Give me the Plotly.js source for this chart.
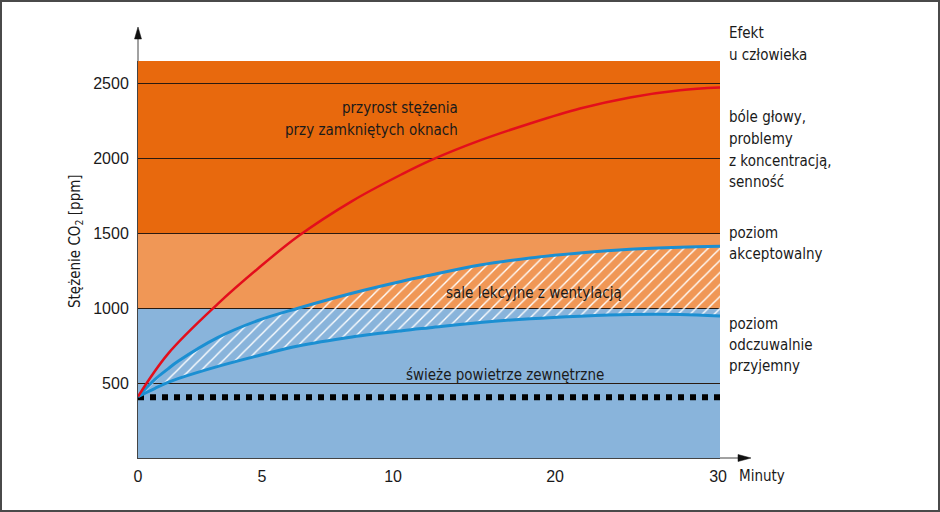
<!DOCTYPE html>
<html>
<head>
<meta charset="utf-8">
<script src="https://cdn.plot.ly/plotly-3.0.1.min.js"></script>
<style>html,body{margin:0;padding:0;background:#fff;}#chart{width:940px;height:512px;}</style>
</head>
<body>
<div id="chart"></div>
<script>
// ---- data (x in drawn time-axis position units, labelled by tickLabels) ----
const tickPos = [0, 6.41, 13.19, 21.57, 30];
const tickLabels = ['0', '5', '10', '20', '30'];
const yTicks = [500, 1000, 1500, 2000, 2500];
const bandFrom = [0, 1000, 1500];
const bandTo = [1000, 1500, 2650];
const bandColors = ['#89b4db', '#f09756', '#e8690d'];

const tRed = [0, 1.55, 4.14, 6.21, 8.28, 11.07, 13.66, 15.10, 17.69, 20.28, 22.86, 25.45, 28.03, 30.1];
const closedWindows = [410, 695, 1030, 1265, 1480, 1715, 1895, 1985, 2120, 2233, 2333, 2407, 2455, 2473];
const t = [0, 0.88, 1.55, 2.07, 4.14, 6.21, 8.28, 11.07, 13.66, 15.10, 17.69, 20.28, 22.86, 25.45, 28.03, 30.1];
const ventUpper = [410, 525, 595, 645, 805, 918, 1000, 1100, 1180, 1220, 1288, 1335, 1368, 1393, 1407, 1413];
const ventLower = [410, 465, 505, 530, 612, 683, 748, 808, 850, 870, 905, 930, 947, 958, 958, 948];
const outdoorT = [0, 30.1];
const outdoor = [405, 405];

// ---- layout helpers (pixel -> paper) ----
const L = 138, R = 720, T = 61, B = 458;
const px = x => (x - L) / (R - L);
const py = y => (B - y) / (B - T);
const FONT = '"DejaVu Sans Condensed", "Liberation Sans", sans-serif';
const TICKFONT = '"Liberation Sans", Arial, sans-serif';
const TXT = '#1a1a1a';

const traces = [
  {x: outdoorT, y: outdoor, mode: 'lines', line: {color: '#000', width: 6, dash: '6px,6px'}, hoverinfo: 'skip'},
  {x: t, y: ventLower, mode: 'lines', line: {color: '#1b8fd2', width: 3, shape: 'spline'}, hoverinfo: 'skip'},
  {x: t, y: ventUpper, mode: 'lines', line: {color: '#1b8fd2', width: 3, shape: 'spline'},
   fill: 'tonexty', fillcolor: 'rgba(0,0,0,0)',
   fillpattern: {shape: '/', fgcolor: '#ffffff', bgcolor: 'rgba(0,0,0,0)', size: 8.5, solidity: 0.16},
   hoverinfo: 'skip'},
  {x: tRed, y: closedWindows, mode: 'lines', line: {color: '#e30e1c', width: 2.5, shape: 'spline'}, hoverinfo: 'skip'}
];

const shapes = bandFrom.map((b, i) => ({
  type: 'rect', layer: 'below', xref: 'paper', yref: 'y', x0: 0, x1: 1, y0: b, y1: bandTo[i],
  fillcolor: bandColors[i], line: {width: 0}
}));
// outer frame
shapes.push({type: 'rect', xref: 'paper', yref: 'paper',
  x0: px(1), x1: px(939), y0: py(511), y1: py(1), line: {color: '#4a4a4a', width: 2}, fillcolor: 'rgba(0,0,0,0)'});
// axis arrow extensions
const AX = '#444';
shapes.push({type: 'line', xref: 'paper', yref: 'paper', x0: 0, x1: 0, y0: 1, y1: py(36), line: {color: AX, width: 1}});
shapes.push({type: 'path', xref: 'paper', yref: 'paper', fillcolor: '#111', line: {color: '#111', width: 0.5},
  path: `M${px(138)},${py(27)} L${px(134.5)},${py(39)} L${px(141.5)},${py(39)} Z`});
shapes.push({type: 'line', xref: 'paper', yref: 'paper', x0: 1, x1: px(742), y0: 0, y1: 0, line: {color: AX, width: 1}});
shapes.push({type: 'path', xref: 'paper', yref: 'paper', fillcolor: '#111', line: {color: '#111', width: 0.5},
  path: `M${px(751)},${py(458)} L${px(738)},${py(454.5)} L${px(738)},${py(461.5)} Z`});

function label(text, x, y, xanchor, extra) {
  return Object.assign({text, xref: 'paper', yref: 'paper', x: px(x), y: py(y), xanchor, yanchor: 'middle',
    showarrow: false, borderpad: 0, font: {family: FONT, size: 15, color: TXT}}, extra || {});
}
function block(lines, x, ys, xanchor) {
  return lines.map((s, i) => label(s, x, ys[i], xanchor));
}

const annotations = [].concat(
  block(['Efekt', 'u człowieka'], 728, [33, 55], 'left'),
  block(['bóle głowy,', 'problemy', 'z koncentracją,', 'senność'], 728, [117, 139, 161, 182], 'left'),
  block(['poziom', 'akceptowalny'], 728, [233, 254], 'left'),
  block(['poziom', 'odczuwalnie', 'przyjemny'], 728, [324, 345, 366], 'left'),
  block(['przyrost stężenia', 'przy zamkniętych oknach'], 459, [108, 130], 'right'),
  [
    label('sale lekcyjne z wentylacją', 534, 293, 'center'),
    label('świeże powietrze zewnętrzne', 505, 375, 'center'),
    label('Minuty', 738, 476, 'left'),
    label('Stężenie CO<sub>2</sub> [ppm]', 75, 241, 'center', {textangle: -90})
  ]
);

const layout = {
  width: 940, height: 512,
  margin: {l: L, r: 940 - R, t: T, b: 512 - B, pad: 0},
  paper_bgcolor: '#ffffff', plot_bgcolor: 'rgba(0,0,0,0)',
  showlegend: false,
  font: {family: FONT, color: TXT},
  xaxis: {range: [0, 30.1], tickvals: tickPos, ticktext: tickLabels, showgrid: false, zeroline: false,
    showline: true, linecolor: AX, linewidth: 1, ticks: '', ticklabelstandoff: 4,
    tickfont: {family: TICKFONT, size: 16, color: TXT}, fixedrange: true},
  yaxis: {range: [0, 2650], tickvals: yTicks, showgrid: true, gridcolor: '#2a1a10', gridwidth: 1,
    zeroline: false, showline: true, linecolor: AX, linewidth: 1, ticks: '', ticklabelstandoff: 5,
    tickfont: {family: TICKFONT, size: 16, color: TXT}, fixedrange: true},
  shapes, annotations
};

Plotly.newPlot('chart', traces, layout, {staticPlot: true, displayModeBar: false});
</script>
</body>
</html>
